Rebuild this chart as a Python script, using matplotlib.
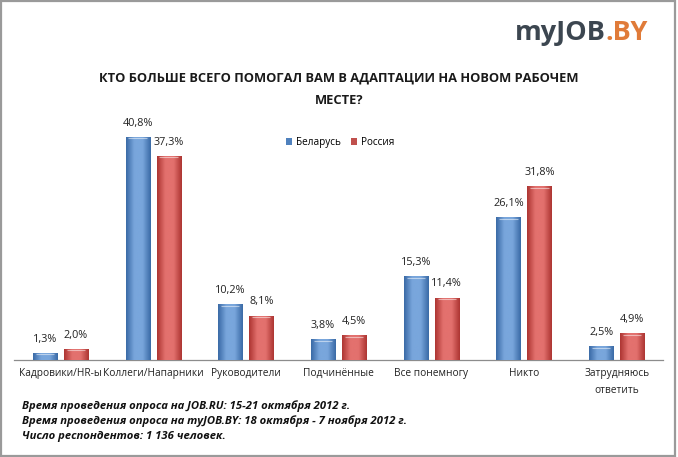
import numpy as np
import matplotlib
matplotlib.use("Agg")
import matplotlib.pyplot as plt
from matplotlib.colors import LinearSegmentedColormap
from matplotlib.patches import Rectangle

categories = ["Кадровики/HR-ы", "Коллеги/Напарники", "Руководители", "Подчинённые",
              "Все понемногу", "Никто", "Затрудняюсь\nответить"]
belarus = [1.3, 40.8, 10.2, 3.8, 15.3, 26.1, 2.5]
russia = [2.0, 37.3, 8.1, 4.5, 11.4, 31.8, 4.9]
series_names = ["Беларусь", "Россия"]

title = "КТО БОЛЬШЕ ВСЕГО ПОМОГАЛ ВАМ В АДАПТАЦИИ НА НОВОМ РАБОЧЕМ\nМЕСТЕ?"
notes = ["Время проведения опроса на JOB.RU: 15-21 октября 2012 г.",
         "Время проведения опроса на myJOB.BY: 18 октября - 7 ноября 2012 г.",
         "Число респондентов: 1 136 человек."]

FONT = ["Open Sans", "DejaVu Sans"]
plt.rcParams["font.family"] = FONT

W, H = 678, 457
fig = plt.figure(figsize=(W / 100, H / 100), dpi=100)
fig.patch.set_facecolor("white")

# frame
fig.add_artist(Rectangle((0.002, 0.003), 0.994, 0.994, transform=fig.transFigure,
                         fill=False, edgecolor="#9a9a9a", linewidth=1.6))

ax = fig.add_axes([14 / W, 1 - 360 / H, 649 / W, 246 / H])
ax.set_xlim(-0.5, len(categories) - 0.5)
ax.set_ylim(0, 45)
for s in ["top", "right", "left"]:
    ax.spines[s].set_visible(False)
ax.spines["bottom"].set_color("#8c8c8c")
ax.spines["bottom"].set_linewidth(0.9)
ax.set_yticks([])
ax.tick_params(axis="x", length=0, pad=6)
x = np.arange(len(categories))
ax.set_xticks(x)
ax.set_xticklabels(categories, fontsize=7.3, color="#222222", linespacing=1.65)

bw = 0.26
off = 0.167
cols = {"b": ("#3a6aa6", "#79a6dc"), "r": ("#ad3532", "#e3716e")}

def grad_cmap(dark, light):
    return LinearSegmentedColormap.from_list("g", [dark, light, light, dark])

cm_b = grad_cmap(*cols["b"])
cm_r = grad_cmap(*cols["r"])
gradient = np.linspace(0, 1, 64).reshape(1, -1)

bars_b = ax.bar(x - off, belarus, bw, color="#4f81bd", label=series_names[0], zorder=2)
bars_r = ax.bar(x + off, russia, bw, color="#c0504d", label=series_names[1], zorder=2)

for bars, cm in ((bars_b, cm_b), (bars_r, cm_r)):
    for b in bars:
        x0, y0 = b.get_x(), b.get_y()
        w, h = b.get_width(), b.get_height()
        im = ax.imshow(gradient, cmap=cm, aspect="auto", extent=(x0, x0 + w, y0, y0 + h),
                       zorder=3, interpolation="bicubic")
        im.set_clip_path(b)
        ax.plot([x0 + w * 0.12, x0 + w * 0.88], [y0 + h - 0.25, y0 + h - 0.25],
                color="white", alpha=0.5, lw=0.8, zorder=4, solid_capstyle="butt")
ax.set_xlim(-0.5, len(categories) - 0.5)
ax.set_ylim(0, 45)

def fmt(v):
    return f"{v:.1f}".replace(".", ",") + "%"

for bars, vals in ((bars_b, belarus), (bars_r, russia)):
    for b, v in zip(bars, vals):
        ax.annotate(fmt(v), (b.get_x() + b.get_width() / 2, v), xytext=(0, 6),
                    textcoords="offset points", ha="center", va="bottom",
                    fontsize=7.8, color="#222222")

leg = ax.legend(loc="upper left", bbox_to_anchor=(268 / 649, 1 - (141 - 114 - 8) / 246),
                ncol=2, frameon=False, fontsize=7.2, handlelength=0.6, handleheight=0.6,
                handletextpad=0.4, columnspacing=1.0, borderaxespad=0)

# title
fig.text(339 / W, 1 - 89 / H, title, ha="center", va="center", fontsize=9.3,
         fontweight="bold", color="#1a1a1a", linespacing=1.9)

# logo
t1 = fig.text(515 / W, 1 - 33 / H, "myJOB", ha="left", va="center", fontsize=19.5,
              fontweight="bold", color="#3c4650", family=["Open Sans", "DejaVu Sans"])
fig.canvas.draw()
bb = t1.get_window_extent()
fig.text(bb.x1 / W, 1 - 33 / H, ".BY", ha="left", va="center", fontsize=19.5,
         fontweight="bold", color="#e07b39", family=["Open Sans", "DejaVu Sans"])

# notes
for i, n in enumerate(notes):
    fig.text(22 / W, 1 - (406 + 15 * i) / H, n, ha="left", va="center", fontsize=8.1,
             fontweight="bold", fontstyle="italic", color="#111111")

fig.savefig("out.png", dpi=100)
